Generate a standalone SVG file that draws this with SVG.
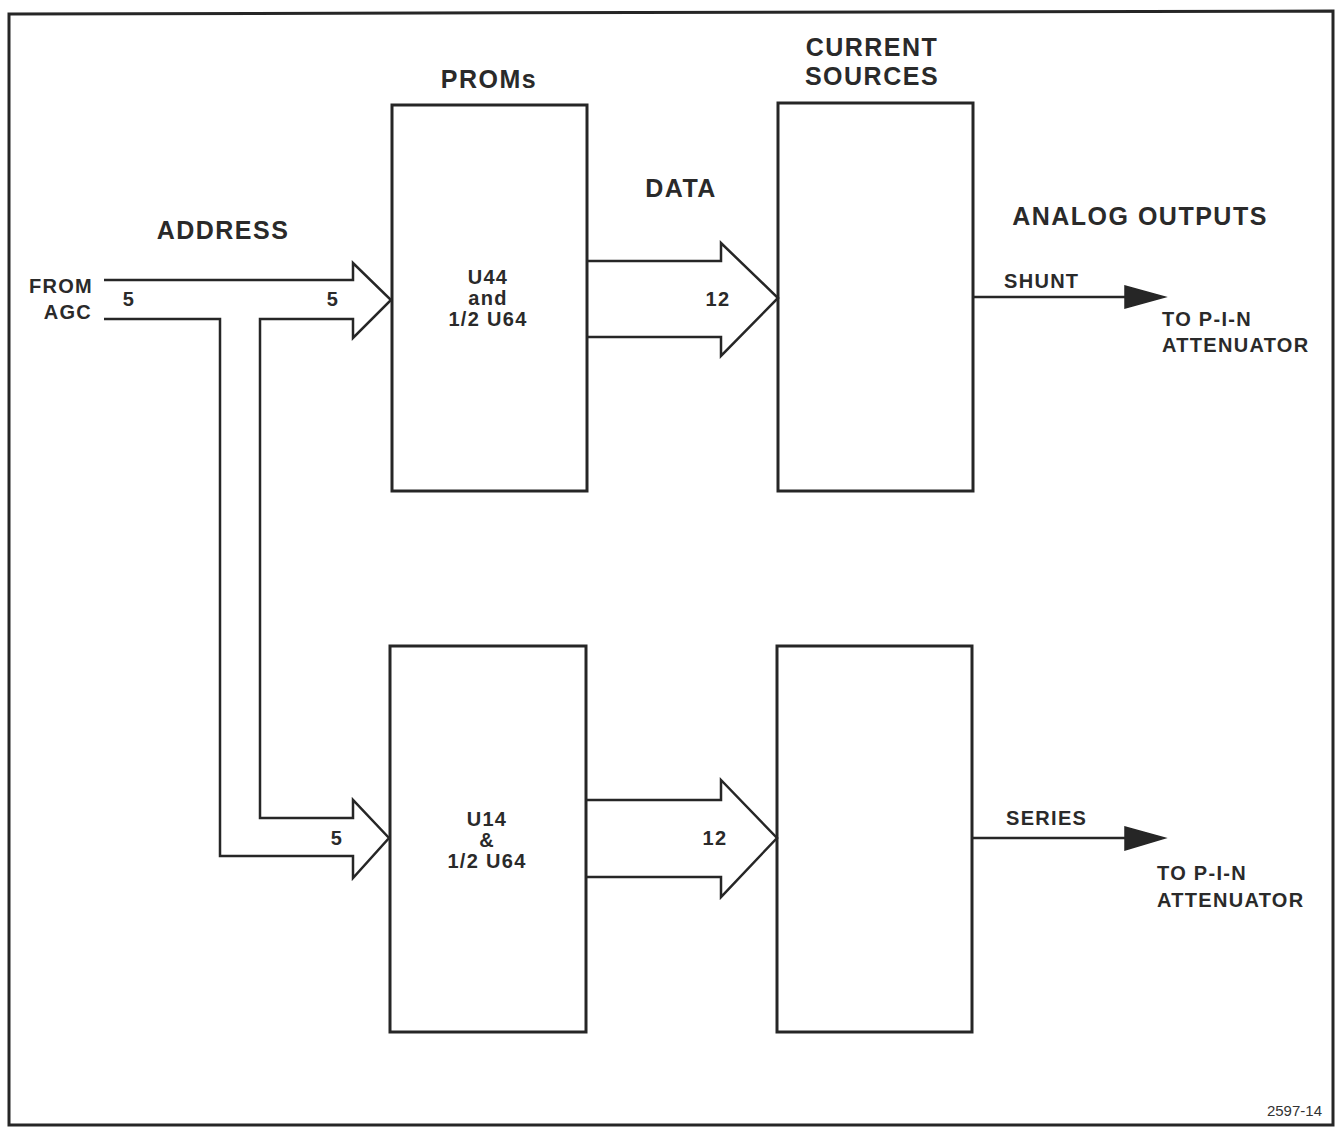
<svg xmlns="http://www.w3.org/2000/svg" width="1336" height="1127" viewBox="0 0 1336 1127">
<style>
.b{fill:none;stroke:#262626;stroke-width:3}
.l{fill:none;stroke:#262626;stroke-width:2.5;stroke-linejoin:miter}
.t{font-family:"Liberation Sans",Arial,sans-serif;font-weight:bold;fill:#2a2a2a}
.h{font-size:25px;letter-spacing:1.5px}
.s{font-size:20px;letter-spacing:1.3px}
.c{text-anchor:middle}
.r{text-anchor:end}
.f{fill:#262626;stroke:#262626;stroke-width:1.5}
</style>
<rect x="0" y="0" width="1336" height="1127" fill="#fff"/>
<path class="b" d="M9,14 L1333,11 L1333,1125 L9,1125 Z"/>
<g id="titles">
<text class="t h c" x="489" y="88">PROMs</text>
<text class="t h c" x="872" y="56">CURRENT</text>
<text class="t h c" x="872" y="85">SOURCES</text>
<text class="t h c" x="681" y="197">DATA</text>
<text class="t h c" x="223" y="239">ADDRESS</text>
<text class="t h c" x="1140" y="225">ANALOG OUTPUTS</text>
</g>
<g id="prom-top">
<rect class="b" x="392" y="105" width="195" height="386"/>
<text class="t s c" x="488" y="284">U44</text>
<text class="t s c" x="488" y="305">and</text>
<text class="t s c" x="488" y="326">1/2 U64</text>
</g>
<g id="prom-bottom">
<rect class="b" x="390" y="646" width="196" height="386"/>
<text class="t s c" x="487" y="826">U14</text>
<text class="t s c" x="487" y="847">&amp;</text>
<text class="t s c" x="487" y="868">1/2 U64</text>
</g>
<g id="cs-top">
<rect class="b" x="778" y="103" width="195" height="388"/>
</g>
<g id="cs-bottom">
<rect class="b" x="777" y="646" width="195" height="386"/>
</g>
<g id="connectors">
<path class="l" d="M104,280 L353,280 L353,263 L391,300 L353,338 L353,319 L260,319 L260,818 L353,818 L353,800 L389,838 L353,878 L353,856 L220,856 L220,319 L104,319"/>
<path class="l" d="M587,261 L721,261 L721,243 L778,298 L721,356 L721,337 L587,337"/>
<path class="l" d="M586,800 L721,800 L721,780 L777,838 L721,897 L721,877 L586,877"/>
<line class="l" x1="973" y1="297" x2="1126" y2="297"/>
<path class="f" d="M1125,286 L1165,297 L1125,308 Z"/>
<line class="l" x1="972" y1="838" x2="1126" y2="838"/>
<path class="f" d="M1125,827 L1165,838 L1125,850 Z"/>
</g>
<g id="labels">
<text class="t s r" x="93" y="293">FROM</text>
<text class="t s r" x="92" y="319">AGC</text>
<text class="t s c" x="129" y="306">5</text>
<text class="t s c" x="333" y="306">5</text>
<text class="t s c" x="337" y="845">5</text>
<text class="t s c" x="718" y="306">12</text>
<text class="t s c" x="715" y="845">12</text>
<text class="t s" x="1004" y="288">SHUNT</text>
<text class="t s" x="1162" y="326">TO P-I-N</text>
<text class="t s" x="1162" y="352">ATTENUATOR</text>
<text class="t s" x="1006" y="825">SERIES</text>
<text class="t s" x="1157" y="880">TO P-I-N</text>
<text class="t s" x="1157" y="907">ATTENUATOR</text>
<text x="1322" y="1116" style="font-family:'Liberation Sans',Arial,sans-serif;font-size:15px;fill:#333;text-anchor:end">2597-14</text>
</g>
</svg>
